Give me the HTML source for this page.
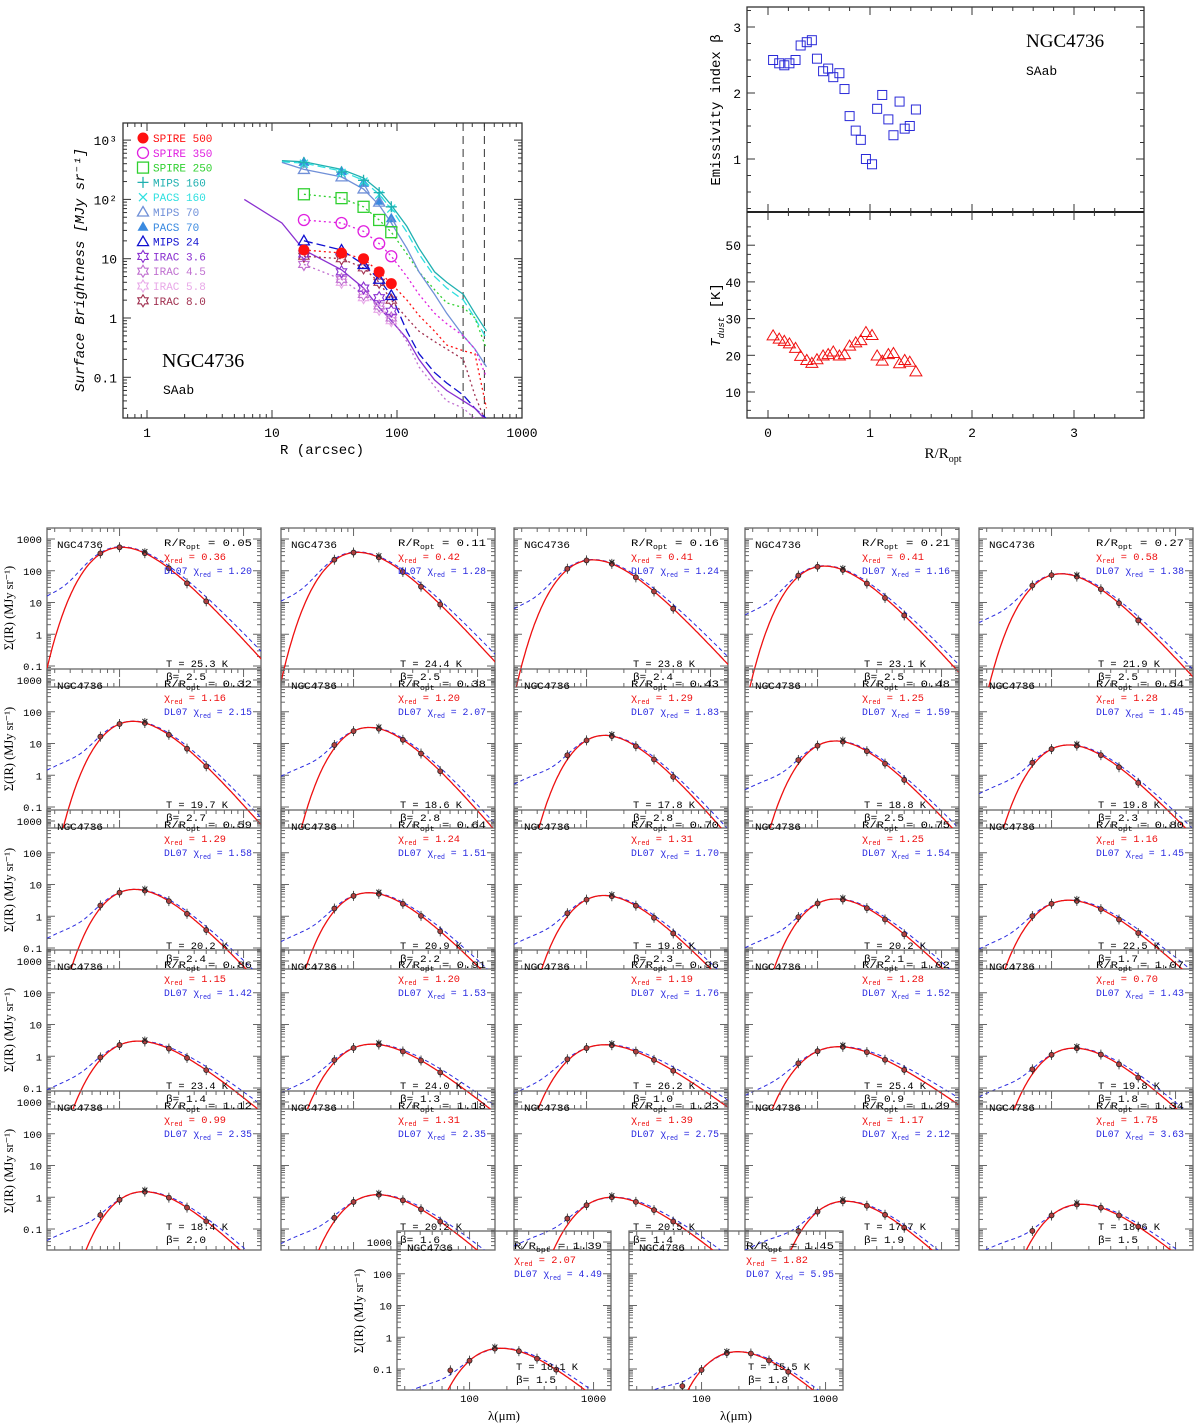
<!DOCTYPE html>
<html><head><meta charset="utf-8">
<style>
html,body{margin:0;padding:0;background:#fff;}
svg{display:block;}
text{font-family:"Liberation Mono","DejaVu Sans Mono",monospace;}
.serif{font-family:"Liberation Serif",serif;}
</style></head>
<body>
<svg id="fig" width="1200" height="1423" viewBox="0 0 1200 1423" xmlns="http://www.w3.org/2000/svg">
<defs id="defs"></defs>
<g id="profile"></g>
<g id="params"></g>
<g id="seds"></g>
</svg>
<script>
// ===== Profile chart data =====
const profRadii = [18, 36, 54, 72, 90];
const bandNames = ["SPIRE 500","SPIRE 350","SPIRE 250","MIPS 160","PACS 160","MIPS 70","PACS 70","MIPS 24","IRAC 3.6","IRAC 4.5","IRAC 5.8","IRAC 8.0"];
const bandColors = ["#ff1010","#e020e0","#30d030","#20b0b0","#30e0e0","#7090d8","#3a8ae0","#1010d0","#8a30d0","#c070d0","#e8a8e8","#a03050"];
const bandValues = [
 [14,12.5,10,6,3.8],
 [45,40,29,18,11],
 [122,105,75,45,28],
 [420,290,210,130,75],
 [400,280,200,120,70],
 [320,240,150,90,40],
 [430,300,190,95,48],
 [20,14,8,4.5,2.4],
 [12,6,3.2,2.2,1.3],
 [8,4.5,2.5,1.6,1.0],
 [8,4,2.2,1.4,0.9],
 [11,10,7,4,2]
];
const lineR = [12,18,36,54,72,90,120,150,200,250,340,420,520];
const lineMIPS160 = [450,430,320,230,140,80,35,15,6,4,2.5,1.2,0.6];
const linePACS160 = [430,410,300,210,120,70,28,12,5,3.2,2.0,1.0,0.45];
const lineS250 = [null,122,105,75,45,28,12,6,3,1.8,1.5,1.0,0.3];
const lineMIPS70 = [420,320,240,150,80,40,15,6,2.5,1.2,0.5,0.3,0.15];
const lineS500 = [null,14,12.5,10,6,3.8,2,1.1,0.6,0.35,0.28,0.25,0.03];
const lineS350 = [null,45,40,29,18,11,5,2.5,1.2,0.8,0.5,0.3,0.1];
const lineM24 = [null,20,14,8,4.5,2.4,0.6,0.25,0.12,0.08,0.05,0.03,0.02];
const lineI36R = [6,12,18,36,54,72,90,120,150,200,250,340,420,500];
const lineI36 = [100,40,14,6.5,3.2,1.5,0.9,0.45,0.2,0.09,0.06,0.04,0.03,0.02];
const lineI45 = [null,null,8,4.5,2.5,1.6,1.0,0.4,0.15,0.07,0.04,0.03,0.02,0.015];
const lineI80 = [null,null,11,10,7,4,2,1.0,0.6,0.4,0.3,0.2,0.05,0.02];

// ===== Beta / Tdust data =====
const rOpt = [0.05,0.11,0.16,0.21,0.27,0.32,0.38,0.43,0.48,0.54,0.59,0.64,0.70,0.75,0.80,0.86,0.91,0.96,1.02,1.07,1.12,1.18,1.23,1.29,1.34,1.39,1.45];
const betaVals = [2.5,2.45,2.42,2.45,2.5,2.72,2.77,2.8,2.52,2.33,2.37,2.24,2.3,2.06,1.65,1.43,1.29,1.0,0.92,1.76,1.97,1.6,1.36,1.87,1.46,1.5,1.75];
const tVals = [25.3,24.4,23.8,23.1,21.9,19.7,18.6,17.8,18.8,19.8,20.2,20.9,19.8,20.2,22.5,23.4,24.0,26.2,25.4,19.8,18.4,20.2,20.5,17.7,18.6,18.1,15.5];
const betaFit = [2.5,2.5,2.4,2.5,2.5,2.7,2.8,2.8,2.5,2.3,2.4,2.2,2.3,2.1,1.7,1.4,1.3,1.0,0.9,1.8,2.0,1.6,1.4,1.9,1.5,1.5,1.8];
const chiMBB = ["0.36","0.42","0.41","0.41","0.58","1.16","1.20","1.29","1.25","1.28","1.29","1.24","1.31","1.25","1.16","1.15","1.20","1.19","1.28","0.70","0.99","1.31","1.39","1.17","1.75","2.07","1.82"];
const chiDL = ["1.20","1.28","1.24","1.16","1.38","2.15","2.07","1.83","1.59","1.45","1.58","1.51","1.70","1.54","1.45","1.42","1.53","1.76","1.52","1.43","2.35","2.35","2.75","2.12","3.63","4.49","5.95"];
const peakVals = [550,380,220,140,80,50,32,18,12,9,7,5.5,4.5,3.5,3.2,3,2.4,2.3,2,1.8,1.5,1.2,1.0,0.75,0.6,0.45,0.35];
const ratio70 = [1,1,1,1,1,1,1,1,1,1,1,1,1,1,1,1,1,1,1,1,1,1.3,1.6,1.4,1.8,3,3];
const sedLam = [70,100,160,250,350,500];

const NS="http://www.w3.org/2000/svg";
function el(tag, attrs, parent){const e=document.createElementNS(NS,tag);for(const k in attrs)e.setAttribute(k,attrs[k]);parent.appendChild(e);return e;}
function txt(s, attrs, parent){const e=el('text',attrs,parent);e.textContent=s;return e;}
const L10=Math.log10;

// ===== Profile chart =====
(function(){
 const g=document.getElementById('profile');
 const X0=123,X1=522,Y0=123,Y1=418;
 const xs=r=>147+125*L10(r);
 const ys=v=>318-59.3*L10(v);
 el('rect',{x:X0,y:Y0,width:X1-X0,height:Y1-Y0,fill:'none',stroke:'#333','stroke-width':1.3},g);
 for(let d=-1;d<=3;d++){for(let m=1;m<10;m++){const v=m*Math.pow(10,d);const x=xs(v);if(x<X0||x>X1)continue;const len=m==1?8:4;
  el('line',{x1:x,y1:Y1,x2:x,y2:Y1-len,stroke:'#333'},g);el('line',{x1:x,y1:Y0,x2:x,y2:Y0+len,stroke:'#333'},g);}}
 for(let d=-2;d<=3;d++){for(let m=1;m<10;m++){const v=m*Math.pow(10,d);const y=ys(v);if(y<Y0||y>Y1)continue;const len=m==1?8:4;
  el('line',{x1:X0,y1:y,x2:X0+len,y2:y,stroke:'#333'},g);el('line',{x1:X1,y1:y,x2:X1-len,y2:y,stroke:'#333'},g);}}
 [[1,'1'],[10,'10'],[100,'100'],[1000,'1000']].forEach(([v,s])=>{const t=txt(s,{x:xs(v),y:437,'font-size':13,'text-anchor':'middle'},g);
  
  });
 [[1000,'10³'],[100,'10²'],[10,'10'],[1,'1'],[0.1,'0.1']].forEach(([v,s])=>{const t=txt(s,{x:117,y:ys(v)+5,'font-size':13,'text-anchor':'end'},g);
  
  });
 const xt=txt('R (arcsec)',{x:322,y:454,'font-size':14,'text-anchor':'middle'},g);
 
 
 const yt=txt('Surface Brightness [MJy sr⁻¹]',{x:0,y:0,'font-size':14,'font-style':'italic','text-anchor':'middle',transform:'translate(84,270) rotate(-90)'},g);
 
 
 const n=txt('NGC4736',{x:162,y:367,'font-size':20,class:'serif'},g);
 
 
 const s=txt('SAab',{x:163,y:394,'font-size':13},g);
 
 
 [338,500].forEach(r=>{const l=el('line',{x1:xs(r),y1:Y0,x2:xs(r),y2:Y1,stroke:'#333','stroke-dasharray':'8,5'},g);
  
  });
 const cpp=el('clipPath',{id:'profclip'},document.getElementById('defs'));
 el('rect',{x:X0,y:Y0,width:X1-X0,height:Y1-Y0},cpp);
 const lg=el('g',{'clip-path':'url(#profclip)'},g);
 function prof(R,V,col,dash,name){let d='';let first=true;for(let i=0;i<R.length;i++){if(V[i]==null)continue;d+=(first?'M':'L')+xs(R[i]).toFixed(1)+','+ys(V[i]).toFixed(1);first=false;}
  const p=el('path',{d:d,fill:'none',stroke:col,'stroke-width':1.3,'stroke-dasharray':dash},lg);
  
  }
 prof(lineR,lineMIPS160,bandColors[3],'none','profile-mips160');
 prof(lineR,linePACS160,bandColors[4],'8,4','profile-pacs160');
 prof(lineR,lineS250,bandColors[2],'2,3','profile-spire250');
 prof(lineR,lineMIPS70,bandColors[5],'none','profile-mips70');
 prof(lineR,lineS500,bandColors[0],'2,3','profile-spire500');
 prof(lineR,lineS350,bandColors[1],'2,3','profile-spire350');
 prof(lineR,lineM24,bandColors[7],'9,4','profile-mips24');
 prof(lineI36R,lineI36,bandColors[8],'none','profile-irac36');
 prof(lineI36R,lineI45,bandColors[9],'2,3','profile-irac45');
 prof(lineI36R,lineI80,bandColors[11],'2,3','profile-irac80');
 function marker(i,x,y,par){const c=bandColors[i];const r=5.5;let e;
  switch(i){
   case 0:e=el('circle',{cx:x,cy:y,r:r,fill:c},par);break;
   case 1:e=el('circle',{cx:x,cy:y,r:r,fill:'none',stroke:c,'stroke-width':1.3},par);break;
   case 2:e=el('rect',{x:x-r,y:y-r,width:2*r,height:2*r,fill:'none',stroke:c,'stroke-width':1.3},par);break;
   case 3:e=el('path',{d:`M${x-r},${y}H${x+r}M${x},${y-r}V${y+r}`,stroke:c,'stroke-width':1.3},par);break;
   case 4:e=el('path',{d:`M${x-4},${y-4}L${x+4},${y+4}M${x-4},${y+4}L${x+4},${y-4}`,stroke:c,'stroke-width':1.3},par);break;
   case 5:case 7:e=el('path',{d:`M${x},${y-r}L${x+r},${y+4}L${x-r},${y+4}Z`,fill:'none',stroke:c,'stroke-width':1.3},par);break;
   case 6:e=el('path',{d:`M${x},${y-r}L${x+r},${y+4}L${x-r},${y+4}Z`,fill:c},par);break;
   default:e=el('path',{d:`M${x},${y-6}L${x+1.8},${y-3}L${x+5.2},${y-3}L${x+3.5},${y}L${x+5.2},${y+3}L${x+1.8},${y+3}L${x},${y+6}L${x-1.8},${y+3}L${x-5.2},${y+3}L${x-3.5},${y}L${x-5.2},${y-3}L${x-1.8},${y-3}Z`,fill:'none',stroke:c,'stroke-width':1.1},par);
  }return e;}
 for(let i=bandValues.length-1;i>=0;i--){for(let j=0;j<profRadii.length;j++){const m=marker(i,xs(profRadii[j]),ys(bandValues[i][j]),lg);
  
  }}
 for(let i=0;i<bandNames.length;i++){const y=138+14.8*i;const m=marker(i,143,y,g);
  
  
  const t=txt(bandNames[i],{x:153,y:y+4,'font-size':11,fill:bandColors[i]},g);
  
  }
})();

// ===== Beta / T chart =====
(function(){
 const g=document.getElementById('params');
 const X0=747,X1=1144,Y0=7,YM=212,Y1=418;
 const xs=r=>768+102*r;
 const yb=b=>159-66*(b-1);
 const yt=t=>392-3.67*(t-10);
 el('rect',{x:X0,y:Y0,width:X1-X0,height:Y1-Y0,fill:'none',stroke:'#333','stroke-width':1.3},g);
 el('line',{x1:X0,y1:YM,x2:X1,y2:YM,stroke:'#222','stroke-width':2},g);
 for(let v=0;v<=3.6;v+=0.2){const x=xs(v);const maj=Math.abs(v-Math.round(v))<0.01;const len=maj?8:4;
  [Y0,YM].forEach(y=>el('line',{x1:x,y1:y,x2:x,y2:y+len,stroke:'#333'},g));
  [YM,Y1].forEach(y=>el('line',{x1:x,y1:y,x2:x,y2:y-len,stroke:'#333'},g));}
 for(let b=0.25;b<=3.3;b+=0.25){const y=yb(b);if(y<Y0||y>YM)continue;const len=(b%1==0)?8:4;
  el('line',{x1:X0,y1:y,x2:X0+len,y2:y,stroke:'#333'},g);el('line',{x1:X1,y1:y,x2:X1-len,y2:y,stroke:'#333'},g);}
 for(let t=5;t<=55;t+=2.5){const y=yt(t);if(y<YM||y>Y1)continue;const len=(t%10==0)?8:4;
  el('line',{x1:X0,y1:y,x2:X0+len,y2:y,stroke:'#333'},g);el('line',{x1:X1,y1:y,x2:X1-len,y2:y,stroke:'#333'},g);}
 [1,2,3].forEach(b=>{const t=txt(String(b),{x:741,y:yb(b)+5,'font-size':13,'text-anchor':'end'},g);
  
  });
 [10,20,30,40,50].forEach(v=>{const t=txt(String(v),{x:741,y:yt(v)+5,'font-size':13,'text-anchor':'end'},g);
  
  });
 [0,1,2,3].forEach(v=>{const t=txt(String(v),{x:xs(v),y:437,'font-size':13,'text-anchor':'middle'},g);
  
  });
 const xl=txt('',{x:943,y:458,'font-size':15,'text-anchor':'middle',class:'serif'},g);
 xl.innerHTML='R/R<tspan font-size="10" dy="4">opt</tspan>';
 
 
 const b1=txt('Emissivity index β',{x:0,y:0,'font-size':14,'text-anchor':'middle',transform:'translate(720,110) rotate(-90)'},g);
 
 
 const t1=txt('',{x:0,y:0,'font-size':14,'text-anchor':'middle',transform:'translate(720,315) rotate(-90)'},g);
 t1.innerHTML='<tspan font-style="italic">T</tspan><tspan font-size="9" dy="4" font-style="italic">dust</tspan><tspan dy="-4">  [K]</tspan>';
 
 
 const n=txt('NGC4736',{x:1026,y:47,'font-size':19,class:'serif'},g);
 
 
 const s=txt('SAab',{x:1026,y:75,'font-size':13},g);
 
 
 for(let i=0;i<rOpt.length;i++){
  const x=xs(rOpt[i]),y=yb(betaVals[i]);
  const q=el('rect',{x:x-4.5,y:y-4.5,width:9,height:9,fill:'none',stroke:'#2a2ad8','stroke-width':1},g);
  
  
  const ty=yt(tVals[i]);
  const tr=el('path',{d:`M${x},${ty-6}L${x+6},${ty+4}L${x-6},${ty+4}Z`,fill:'none',stroke:'#f01010','stroke-width':1},g);
  
  
 }
})();

// ===== SED grid =====
(function(){
 const g=document.getElementById('seds');
 const defs=document.getElementById('defs');
 const W=214,H=159;
 const colX=[47,281,514,745,979];
 const rowY=[528,669,810,950,1091];
 const pos=[];
 for(let r=0;r<5;r++)for(let c=0;c<5;c++)pos.push([colX[c],rowY[r]]);
 pos.push([397,1231]);pos.push([629,1231]);
 const lamMin=26;
 function mbb(l,T,b){return Math.pow(l,-(3+b))/(Math.exp(14388/(l*T))-1);}
 const grid=[];for(let i=0;i<=160;i++)grid.push(lamMin*Math.pow(10,i*1.75/160));
 for(let k=0;k<pos.length;k++){
  const [x0,top]=pos[k];
  const pg=el('g',{},g);
  
  
  const xs=l=>x0+124*L10(l/lamMin);
  const ys=v=>top+11+31.75*(3-L10(v));
  const cid='sc'+k;
  const cp=el('clipPath',{id:cid},defs);el('rect',{x:x0,y:top,width:W,height:H},cp);
  el('rect',{x:x0,y:top,width:W,height:H,fill:'none',stroke:'#666','stroke-width':1.3},pg);
  for(let d=1;d<=3;d++)for(let m=1;m<10;m++){const v=m*Math.pow(10,d);const x=xs(v);if(x<=x0||x>=x0+W)continue;const len=m==1?8:4;
   el('line',{x1:x,y1:top+H,x2:x,y2:top+H-len,stroke:'#666'},pg);el('line',{x1:x,y1:top,x2:x,y2:top+len,stroke:'#666'},pg);}
  for(let d=-2;d<=3;d++)for(let m=1;m<10;m++){const v=m*Math.pow(10,d);const y=ys(v);if(y<=top||y>=top+H)continue;const len=m==1?8:4;
   el('line',{x1:x0,y1:y,x2:x0+len,y2:y,stroke:'#666'},pg);el('line',{x1:x0+W,y1:y,x2:x0+W-len,y2:y,stroke:'#666'},pg);}
  const isLeft=(x0===47||k===25);
  if(isLeft){
   [[1000,'1000'],[100,'100'],[10,'10'],[1,'1'],[0.1,'0.1']].forEach(([v,s])=>{const t=txt(s,{x:x0-5,y:ys(v)+4,'font-size':10.5,'text-anchor':'end'},pg);
    
    });
   const yt=txt('Σ(IR) (MJy sr⁻¹)',{x:0,y:0,'font-size':12.5,'text-anchor':'middle',class:'serif',transform:`translate(${x0-34},${top+80}) rotate(-90)`},pg);
   
   
  }
  if(k>=25){
   [[100,'100'],[1000,'1000']].forEach(([v,s])=>{const t=txt(s,{x:xs(v),y:top+H+12,'font-size':10.5,'text-anchor':'middle'},pg);
    
    });
   const xt=txt('λ(μm)',{x:x0+W/2,y:top+H+30,'font-size':13,'text-anchor':'middle',class:'serif'},pg);
   
   
  }
  const T=tVals[k],B=betaFit[k],P=peakVals[k];
  let mx=0;grid.forEach(l=>{mx=Math.max(mx,mbb(l,T,B));});
  const Bd=B-0.25,Td=T*1.02;let mx2=0;grid.forEach(l=>{mx2=Math.max(mx2,mbb(l,Td,Bd));});
  const red=l=>P*mbb(l,T,B)/mx;
  const dl=l=>P*(mbb(l,Td,Bd)/mx2+0.035*Math.pow(l/26,2.3)*Math.exp(-Math.pow(l/60,2)));
  const cg=el('g',{'clip-path':`url(#${cid})`},pg);
  let d1='',d2='';
  grid.forEach((l,i)=>{const v1=Math.max(red(l),1e-6),v2=Math.max(dl(l),1e-6);
   d1+=(i?'L':'M')+xs(l).toFixed(1)+','+Math.min(ys(v1),top+H+50).toFixed(1);
   d2+=(i?'L':'M')+xs(l).toFixed(1)+','+Math.min(ys(v2),top+H+50).toFixed(1);});
  const p2=el('path',{d:d2,fill:'none',stroke:'#2a2ae0','stroke-width':1,'stroke-dasharray':'4,3'},cg);
  
  
  const p1=el('path',{d:d1,fill:'none',stroke:'#ee1010','stroke-width':1.3},cg);
  
  
  sedLam.forEach(l=>{let v=red(l);if(l===70)v=red(l)*ratio70[k];if(l===70&&ratio70[k]===1)v=dl(l)*0.95;
   const x=xs(l),y=ys(v);
   el('line',{x1:x,y1:y-5,x2:x,y2:y+5,stroke:'#222','stroke-width':0.8},cg);
   const c=el('circle',{cx:x,cy:y,r:2.5,fill:'#b04040',stroke:'#222','stroke-width':0.8},cg);
   
   
   if(l===160){const yy=ys(v*1.12);el('path',{d:`M${x-2.5},${yy-2.5}L${x+2.5},${yy+2.5}M${x-2.5},${yy+2.5}L${x+2.5},${yy-2.5}`,stroke:'#222','stroke-width':1},cg);}
  });
  const nm=txt('NGC4736',{x:x0+10,y:top+20,'font-size':10,textLength:46,lengthAdjust:'spacingAndGlyphs'},pg);
  
  
  const lx=x0+117;
  const rl=txt('',{x:lx,y:top+18,'font-size':10.5,textLength:88,lengthAdjust:'spacingAndGlyphs'},pg);
  rl.innerHTML='R/R<tspan font-size="7" dy="3">opt</tspan><tspan dy="-3"> = '+rOpt[k].toFixed(2)+'</tspan>';
  
  
  const cl=txt('',{x:lx,y:top+32,'font-size':10.5,fill:'#ee1010',textLength:62,lengthAdjust:'spacingAndGlyphs'},pg);
  cl.innerHTML='χ<tspan font-size="7" dy="3">red</tspan><tspan dy="-3"> = '+chiMBB[k]+'</tspan>';
  
  
  const dlab=txt('',{x:lx,y:top+46,'font-size':10.5,fill:'#2a2ae0',textLength:88,lengthAdjust:'spacingAndGlyphs'},pg);
  dlab.innerHTML='DL07 χ<tspan font-size="7" dy="3">red</tspan><tspan dy="-3"> = '+chiDL[k]+'</tspan>';
  
  
  const tl=txt('T = '+T.toFixed(1)+' K',{x:x0+119,y:top+139,'font-size':10.5,textLength:62,lengthAdjust:'spacingAndGlyphs'},pg);
  
  
  const bl=txt('β= '+B.toFixed(1),{x:x0+119,y:top+152,'font-size':10.5,textLength:40,lengthAdjust:'spacingAndGlyphs'},pg);
  
  
 }
})();
</script>
</body></html>
